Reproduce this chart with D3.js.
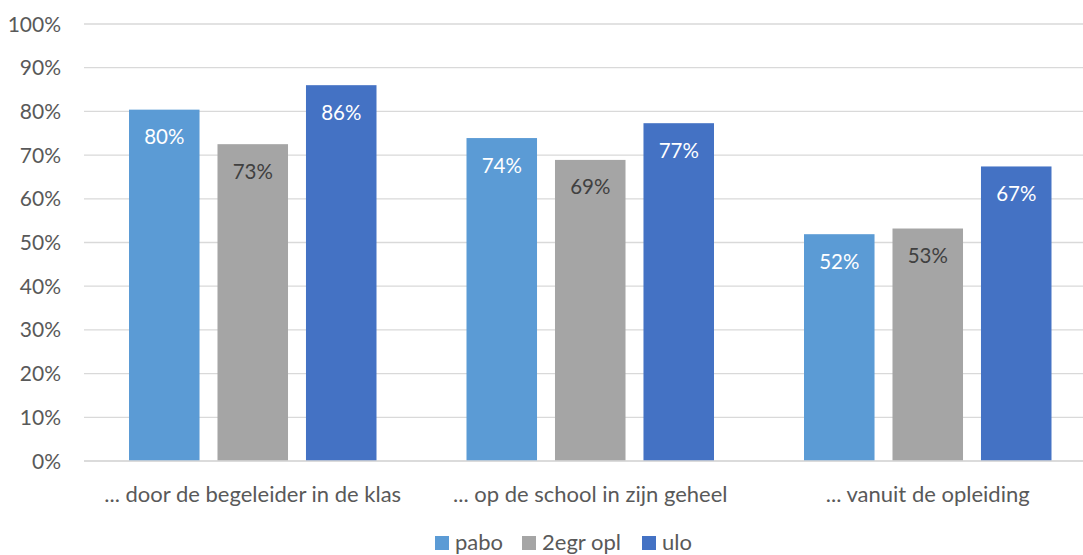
<!DOCTYPE html>
<html><head><meta charset="utf-8">
<script src="https://cdn.jsdelivr.net/npm/d3@7"></script>
<style>
html,body{margin:0;padding:0;background:#fff;}
svg{display:block;font-family:Lato,"Open Sans",sans-serif;}
</style></head>
<body><svg id="c" width="1083" height="555"></svg>
<script>
const categories = ["... door de begeleider in de klas", "... op de school in zijn geheel", "... vanuit de opleiding"];
const seriesNames = ["pabo", "2egr opl", "ulo"];
const pabo = [80.4, 73.9, 51.9];
const tweedegraads = [72.5, 68.9, 53.2];
const ulo = [86.0, 77.3, 67.4];
const seriesValues = [pabo, tweedegraads, ulo];
const colors = ["#5B9BD5", "#A5A5A5", "#4472C4"];
const labelColors = ["#ffffff", "#404040", "#ffffff"];
const yTicks = [0, 10, 20, 30, 40, 50, 60, 70, 80, 90, 100];

const svg = d3.select("#c");
const x0 = d3.scaleBand().domain(categories).range([84, 1096.5]).paddingInner(0).paddingOuter(0);
const x1 = d3.scaleBand().domain(seriesNames).range([45, 292.5]).paddingInner(0.203).paddingOuter(0);
const y = d3.scaleLinear().domain([0, 100]).range([461, 24]);

// gridlines
svg.append("g").selectAll("line").data(yTicks).join("line")
  .attr("x1", 84).attr("x2", 1083)
  .attr("y1", d => y(d)).attr("y2", d => y(d))
  .attr("stroke", "#D9D9D9").attr("stroke-width", 1.3);

// y axis labels
svg.append("g").selectAll("text").data(yTicks).join("text")
  .attr("x", 61).attr("y", d => y(d) + 7.5)
  .attr("text-anchor", "end").attr("fill", "#595959").attr("font-size", 21)
  .text(d => d + "%");

// bars
const data = [];
categories.forEach((c, ci) => seriesNames.forEach((s, si) => data.push({c, s, si, v: seriesValues[si][ci]})));
svg.append("g").selectAll("rect").data(data).join("rect")
  .attr("x", d => x0(d.c) + x1(d.s)).attr("width", x1.bandwidth())
  .attr("y", d => y(d.v)).attr("height", d => y(0) - y(d.v))
  .attr("fill", d => colors[d.si]);

// value labels
svg.append("g").selectAll("text").data(data).join("text")
  .attr("x", d => x0(d.c) + x1(d.s) + x1.bandwidth() / 2)
  .attr("y", d => y(d.v) + 34.5)
  .attr("text-anchor", "middle").attr("font-size", 20.5)
  .attr("fill", d => labelColors[d.si])
  .text(d => Math.round(d.v) + "%");

// baseline axis line
svg.append("line").attr("x1", 84).attr("x2", 1083).attr("y1", y(0)).attr("y2", y(0))
  .attr("stroke", "#D9D9D9").attr("stroke-width", 1.3);

// category labels
svg.append("g").selectAll("text").data(categories).join("text")
  .attr("x", d => x0(d) + x0.bandwidth() / 2).attr("y", 502)
  .attr("text-anchor", "middle").attr("fill", "#595959").attr("font-size", 22)
  .text(d => d);

// legend
const legendX = [435, 522, 642];
const lg = svg.append("g").selectAll("g").data(seriesNames).join("g")
  .attr("transform", (d, i) => `translate(${legendX[i]},0)`);
lg.append("rect").attr("x", 0).attr("y", 536).attr("width", 14).attr("height", 14)
  .attr("fill", (d, i) => colors[i]);
lg.append("text").attr("x", 20).attr("y", 549.5).attr("fill", "#595959").attr("font-size", 22)
  .text(d => d);
</script></body></html>
